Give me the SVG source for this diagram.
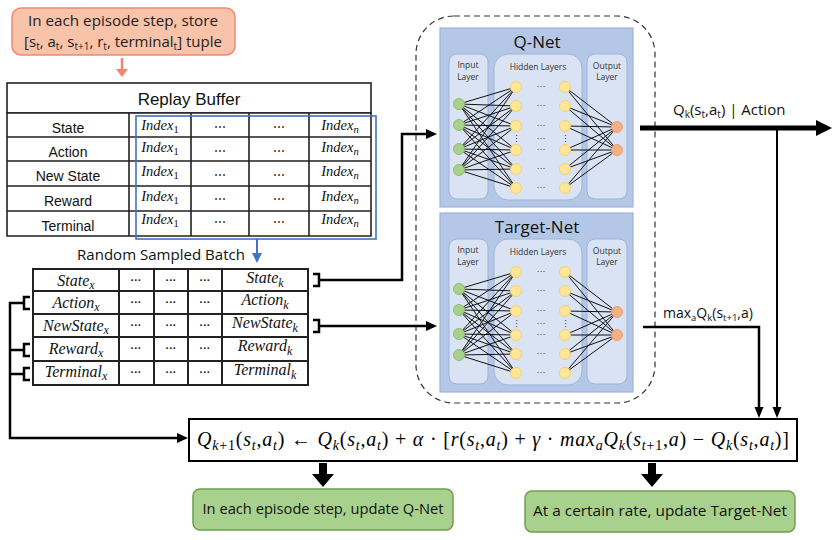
<svg xmlns="http://www.w3.org/2000/svg" xmlns:xlink="http://www.w3.org/1999/xlink" width="833" height="540" viewBox="0 0 833 540">
<style>
.sans{font-family:"Open Sans","Noto Sans",sans-serif;}
.ar{font-family:"Liberation Sans",Arial,sans-serif;}
.math{font-family:"Liberation Serif","Times New Roman",serif;font-style:italic;}
.up{font-style:normal;}
.cell{fill:#fff;stroke:#222;stroke-width:1.6;}
.ln{fill:none;stroke:#000;stroke-width:2.5;}
.thin{fill:none;stroke:#000;stroke-width:2;}
.edge{fill:none;stroke:#111;stroke-width:1;}
.pnl{fill:#DAE3F3;stroke:#9DB3DA;stroke-width:1;}
.gin{fill:#A9D18E;stroke:#8DBE70;stroke-width:1;}
.hid{fill:#FFE699;stroke:#F2D36A;stroke-width:1;}
.out{fill:#F4B183;stroke:#EE9E78;stroke-width:1;}
.lbl{font-family:"Open Sans","Noto Sans",sans-serif;font-size:8.5px;fill:#333;text-anchor:middle;}
.dots{font-family:"Liberation Sans",sans-serif;font-size:9px;fill:#333;text-anchor:middle;}
</style>
<defs>
<g id="net">
<rect x="449" y="54" width="39" height="145" rx="8" class="pnl"/>
<rect x="494" y="54" width="88" height="146" rx="14" class="pnl"/>
<rect x="587" y="54" width="40" height="145" rx="8" class="pnl"/>
<text class="lbl" x="468" y="68">Input</text>
<text class="lbl" x="468" y="80">Layer</text>
<text class="lbl" x="538" y="70">Hidden Layers</text>
<text class="lbl" x="607" y="69">Output</text>
<text class="lbl" x="607" y="80">Layer</text>
<path class="edge" d="M459 104L516 87M459 104L516 106M459 104L516 126M459 104L516 150M459 104L516 169M459 104L516 188M459 125L516 87M459 125L516 106M459 125L516 126M459 125L516 150M459 125L516 169M459 125L516 188M459 149L516 87M459 149L516 106M459 149L516 126M459 149L516 150M459 149L516 169M459 149L516 188M459 170L516 87M459 170L516 106M459 170L516 126M459 170L516 150M459 170L516 169M459 170L516 188M565 87L617 127M565 106L617 127M565 126L617 127M565 150L617 127M565 169L617 127M565 188L617 127M565 87L617 150M565 106L617 150M565 126L617 150M565 150L617 150M565 169L617 150M565 188L617 150"/>
<circle class="gin" cx="459" cy="104" r="5.5"/><circle class="gin" cx="459" cy="125" r="5.5"/><circle class="gin" cx="459" cy="149" r="5.5"/><circle class="gin" cx="459" cy="170" r="5.5"/>
<circle class="hid" cx="516" cy="87" r="5.5"/><circle class="hid" cx="516" cy="106" r="5.5"/><circle class="hid" cx="516" cy="126" r="5.5"/><circle class="hid" cx="516" cy="150" r="5.5"/><circle class="hid" cx="516" cy="169" r="5.5"/><circle class="hid" cx="516" cy="188" r="5.5"/>
<circle class="hid" cx="565" cy="87" r="5.5"/><circle class="hid" cx="565" cy="106" r="5.5"/><circle class="hid" cx="565" cy="126" r="5.5"/><circle class="hid" cx="565" cy="150" r="5.5"/><circle class="hid" cx="565" cy="169" r="5.5"/><circle class="hid" cx="565" cy="188" r="5.5"/>
<circle class="out" cx="617" cy="127" r="5.5"/><circle class="out" cx="617" cy="150" r="5.5"/>
<text class="dots" x="541" y="89">···</text><text class="dots" x="541" y="108">···</text><text class="dots" x="541" y="128">···</text><text class="dots" x="541" y="141">···</text><text class="dots" x="541" y="152">···</text><text class="dots" x="541" y="171">···</text><text class="dots" x="541" y="190">···</text>
<text class="dots" x="516" y="142">⋮</text><text class="dots" x="565" y="142">⋮</text>
</g>
</defs>
<rect width="833" height="540" fill="#fff"/>

<g id="store-note">
<rect x="12" y="8" width="223" height="47" rx="9" fill="#F8C3A9" stroke="#F08878" stroke-width="1.5"/>
<text class="sans" x="123" y="26" font-size="15" text-anchor="middle" fill="#222" textLength="190" lengthAdjust="spacingAndGlyphs">In each episode step, store</text>
<text class="sans" x="123" y="47" font-size="15" text-anchor="middle" fill="#222">[s<tspan font-size="10" dy="3">t</tspan><tspan dy="-3">, a</tspan><tspan font-size="10" dy="3">t</tspan><tspan dy="-3">, s</tspan><tspan font-size="10" dy="3">t+1</tspan><tspan dy="-3">, r</tspan><tspan font-size="10" dy="3">t</tspan><tspan dy="-3">, terminal</tspan><tspan font-size="10" dy="3">t</tspan><tspan dy="-3">] tuple</tspan></text>
</g>

<g id="replay-buffer">
<rect x="7" y="83" width="364" height="30" class="cell"/>
<text class="ar" x="189" y="105" font-size="17" text-anchor="middle" fill="#111">Replay Buffer</text>
<path d="M7 113H371V236H7ZM7 137H371M7 161H371M7 186H371M7 211H371M129 113V236M191 113V236M249 113V236M309 113V236" fill="#fff" stroke="#222" stroke-width="1.6"/>
<g class="ar" font-size="14" text-anchor="middle" fill="#111">
<text x="68" y="133">State</text><text x="68" y="157">Action</text><text x="68" y="181">New State</text><text x="68" y="206">Reward</text><text x="68" y="231">Terminal</text>
</g>
<g class="math" font-size="14.5" text-anchor="middle" fill="#111">
<text x="160" y="130">Index<tspan class="up" font-size="10.5" dy="3">1</tspan></text>
<text x="160" y="152">Index<tspan class="up" font-size="10.5" dy="3">1</tspan></text>
<text x="160" y="176">Index<tspan class="up" font-size="10.5" dy="3">1</tspan></text>
<text x="160" y="201">Index<tspan class="up" font-size="10.5" dy="3">1</tspan></text>
<text x="160" y="224">Index<tspan class="up" font-size="10.5" dy="3">1</tspan></text>
<text x="340" y="130">Index<tspan font-size="10.5" dy="3">n</tspan></text>
<text x="340" y="152">Index<tspan font-size="10.5" dy="3">n</tspan></text>
<text x="340" y="176">Index<tspan font-size="10.5" dy="3">n</tspan></text>
<text x="340" y="201">Index<tspan font-size="10.5" dy="3">n</tspan></text>
<text x="340" y="224">Index<tspan font-size="10.5" dy="3">n</tspan></text>
</g>
<g class="ar" font-size="12" text-anchor="middle" fill="#111">
<text x="220" y="131">⋯</text><text x="279" y="131">⋯</text>
<text x="220" y="155">⋯</text><text x="279" y="155">⋯</text>
<text x="220" y="179">⋯</text><text x="279" y="179">⋯</text>
<text x="220" y="203">⋯</text><text x="279" y="203">⋯</text>
<text x="220" y="226">⋯</text><text x="279" y="226">⋯</text>
</g>
<rect x="136" y="116" width="240" height="123" fill="none" stroke="#4472C4" stroke-width="1.6"/>
</g>

<g id="sampled-batch">
<text class="sans" x="161" y="260" font-size="15" text-anchor="middle" fill="#111" textLength="168" lengthAdjust="spacingAndGlyphs">Random Sampled Batch</text>
<path d="M33 269H308V385H33ZM33 291H308M33 314H308M33 337H308M33 361H308M119 269V385M154 269V385M188 269V385M222 269V385" fill="#fff" stroke="#222" stroke-width="2"/>
<g class="math" font-size="16" text-anchor="middle" fill="#111">
<text x="76" y="286">State<tspan font-size="12" dy="3">x</tspan></text>
<text x="76" y="308">Action<tspan font-size="12" dy="3">x</tspan></text>
<text x="76" y="331">NewState<tspan font-size="12" dy="3">x</tspan></text>
<text x="76" y="354">Reward<tspan font-size="12" dy="3">x</tspan></text>
<text x="76" y="377">Terminal<tspan font-size="12" dy="3">x</tspan></text>
<text x="265" y="283">State<tspan font-size="12" dy="4">k</tspan></text>
<text x="265" y="305">Action<tspan font-size="12" dy="4">k</tspan></text>
<text x="265" y="328">NewState<tspan font-size="12" dy="4">k</tspan></text>
<text x="265" y="351">Reward<tspan font-size="12" dy="4">k</tspan></text>
<text x="265" y="375">Terminal<tspan font-size="12" dy="4">k</tspan></text>
</g>
<g class="ar" font-size="11" font-weight="bold" text-anchor="middle" fill="#111">
<text x="136" y="284">···</text><text x="171" y="284">···</text><text x="205" y="284">···</text>
<text x="136" y="306">···</text><text x="171" y="306">···</text><text x="205" y="306">···</text>
<text x="136" y="329">···</text><text x="171" y="329">···</text><text x="205" y="329">···</text>
<text x="136" y="352">···</text><text x="171" y="352">···</text><text x="205" y="352">···</text>
<text x="136" y="376">···</text><text x="171" y="376">···</text><text x="205" y="376">···</text>
</g>
</g>

<g id="dqn-frame">
<rect x="416" y="16" width="239" height="387" rx="38" fill="none" stroke="#333" stroke-width="1.2" stroke-dasharray="6,4"/>
</g>

<g id="q-net">
<rect x="440" y="28" width="193" height="179" fill="#B4C7E7" stroke="#9DB3DA" stroke-width="1.2"/>
<text class="sans" x="537" y="48" font-size="17" text-anchor="middle" fill="#111">Q-Net</text>
<use xlink:href="#net" href="#net"/>
</g>

<g id="target-net">
<rect x="440" y="213" width="193" height="179" fill="#B4C7E7" stroke="#9DB3DA" stroke-width="1.2"/>
<text class="sans" x="537" y="233" font-size="17" text-anchor="middle" fill="#111">Target-Net</text>
<use xlink:href="#net" href="#net" transform="translate(0,185)"/>
</g>

<g id="formula">
<rect x="189" y="419" width="608" height="42" fill="#fff" stroke="#000" stroke-width="2"/>
<text class="math" x="197" y="446" font-size="20" fill="#000" textLength="592" lengthAdjust="spacing" xml:space="preserve">Q<tspan font-size="14" dy="4">k</tspan><tspan class="up" font-size="14">+1</tspan><tspan class="up" dy="-4">(</tspan>s<tspan font-size="14" dy="4">t</tspan><tspan class="up" dy="-4">,</tspan>a<tspan font-size="14" dy="4">t</tspan><tspan class="up" dy="-4">) ← </tspan>Q<tspan font-size="14" dy="4">k</tspan><tspan class="up" dy="-4">(</tspan>s<tspan font-size="14" dy="4">t</tspan><tspan class="up" dy="-4">,</tspan>a<tspan font-size="14" dy="4">t</tspan><tspan class="up" dy="-4">) + </tspan>α<tspan class="up"> · [</tspan>r<tspan class="up">(</tspan>s<tspan font-size="14" dy="4">t</tspan><tspan class="up" dy="-4">,</tspan>a<tspan font-size="14" dy="4">t</tspan><tspan class="up" dy="-4">) + </tspan>γ<tspan class="up"> · </tspan>max<tspan font-size="14" dy="4">a</tspan><tspan dy="-4">Q</tspan><tspan font-size="14" dy="4">k</tspan><tspan class="up" dy="-4">(</tspan>s<tspan font-size="14" dy="4">t</tspan><tspan class="up" font-size="14">+1</tspan><tspan class="up" dy="-4">,</tspan>a<tspan class="up">) − </tspan>Q<tspan font-size="14" dy="4">k</tspan><tspan class="up" dy="-4">(</tspan>s<tspan font-size="14" dy="4">t</tspan><tspan class="up" dy="-4">,</tspan>a<tspan font-size="14" dy="4">t</tspan><tspan class="up" dy="-4">)]</tspan></text>
</g>

<g id="update-q">
<rect x="193" y="489" width="260" height="41" rx="7" fill="#A9D18E" stroke="#6E9E4E" stroke-width="1.5"/>
<text class="sans" x="323" y="514" font-size="15" text-anchor="middle" fill="#111" textLength="241" lengthAdjust="spacingAndGlyphs">In each episode step, update Q-Net</text>
</g>

<g id="update-target">
<rect x="525" y="491" width="270" height="41" rx="7" fill="#A9D18E" stroke="#6E9E4E" stroke-width="1.5"/>
<text class="sans" x="660" y="516" font-size="15" text-anchor="middle" fill="#111" textLength="254" lengthAdjust="spacingAndGlyphs">At a certain rate, update Target-Net</text>
</g>

<g id="connectors">
<path d="M122 58V70" stroke="#F4846E" stroke-width="2.5" fill="none"/>
<path d="M116 69L122 77L128 69Z" fill="#F4846E"/>
<path d="M257 239V254" stroke="#4472C4" stroke-width="2" fill="none"/>
<path d="M252 253L257 263L262 253Z" fill="#4472C4"/>
<path class="ln" d="M313 274H319V286H313M319 280H402V134H428"/>
<path d="M426 129L437 134L426 139Z"/>
<path class="ln" d="M313 320H319V332H313M319 326H428"/>
<path d="M426 321L437 326L426 331Z"/>
<path class="ln" d="M30 297H24V309H30M30 344H24V356H30M30 368H24V380H30M24 303H10V438H178M24 350H10M24 374H10"/>
<path d="M177 433L188 438L177 443Z"/>
<path d="M640 128H818" stroke="#000" stroke-width="5" fill="none"/>
<path d="M816 120L832 128L816 136Z"/>
<text class="sans" x="673" y="115" font-size="15" fill="#111">Q<tspan font-size="10" dy="3">k</tspan><tspan dy="-3">(s</tspan><tspan font-size="10" dy="3">t</tspan><tspan dy="-3">,a</tspan><tspan font-size="10" dy="3">t</tspan><tspan dy="-3">) | Action</tspan></text>
<path class="thin" d="M777 128V409"/>
<path d="M772.5 407L777 418L781.5 407Z"/>
<path class="ln" d="M643 327H759V409"/>
<path d="M754.5 407L759 418L763.5 407Z"/>
<text class="sans" x="663" y="318" font-size="14" fill="#111">max<tspan font-size="9.5" dy="3">a</tspan><tspan dy="-3">Q</tspan><tspan font-size="9.5" dy="3">k</tspan><tspan dy="-3">(s</tspan><tspan font-size="9.5" dy="3">t+1</tspan><tspan dy="-3">,a)</tspan></text>
<path d="M319 463H327V474H334L323 487L312 474H319Z"/>
<path d="M648 463H656V474H663L652 487L641 474H648Z"/>
</g>
</svg>
